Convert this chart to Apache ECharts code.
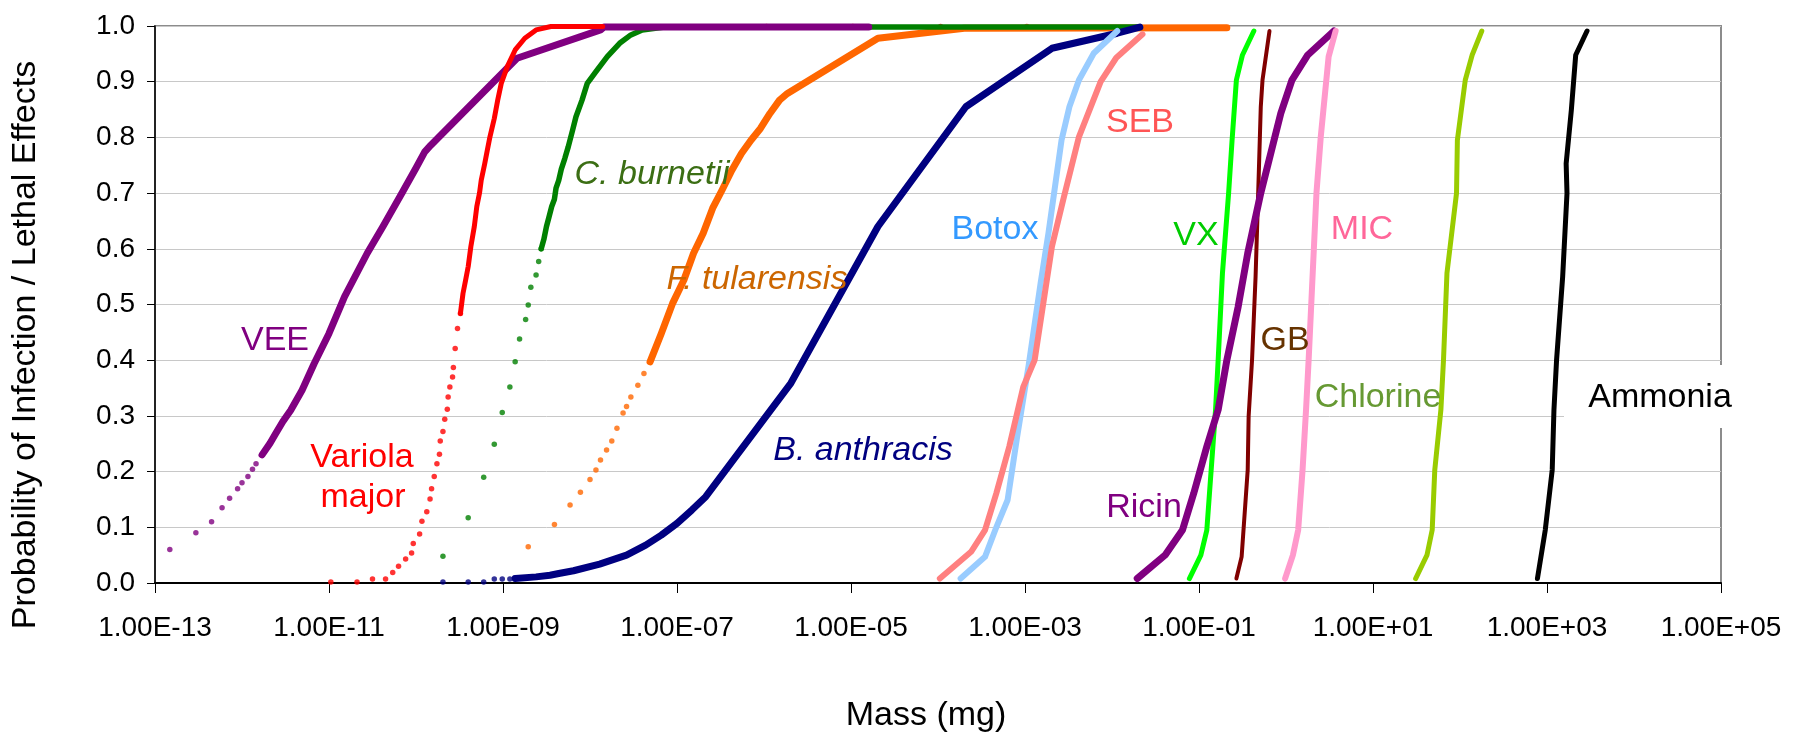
<!DOCTYPE html>
<html>
<head>
<meta charset="utf-8">
<script src="https://cdn.jsdelivr.net/npm/echarts@6/dist/echarts.min.js"></script>
<style>
html,body{margin:0;padding:0;background:#fff;}
#main{width:1797px;height:738px;}
</style>
</head>
<body>
<div id="main"></div>
<script>
// axis ticks
const xTickValues = [1e-13, 1e-11, 1e-9, 1e-7, 1e-5, 1e-3, 1e-1, 1e1, 1e3, 1e5];
const xTickLabels = ['1.00E-13','1.00E-11','1.00E-09','1.00E-07','1.00E-05','1.00E-03','1.00E-01','1.00E+01','1.00E+03','1.00E+05'];
const yTickLabels = ['0.0','0.1','0.2','0.3','0.4','0.5','0.6','0.7','0.8','0.9','1.0'];

// [mass (mg), probability]
const veeDots = [[1.48e-13,0.06],[2.95e-13,0.09],[4.47e-13,0.11],[5.9e-13,0.135],[7.2e-13,0.152],[8.9e-13,0.169],[1.0e-12,0.18],[1.17e-12,0.191],[1.32e-12,0.204],[1.45e-12,0.214],[1.7e-12,0.23]];
const veeLine = [[1.7e-12,0.23],[2.1e-12,0.251],[2.45e-12,0.269],[2.95e-12,0.29],[3.63e-12,0.31],[4.9e-12,0.346],[6.76e-12,0.394],[1.0e-11,0.448],[1.51e-11,0.514],[2.75e-11,0.592],[4.17e-11,0.64],[6.9e-11,0.70],[1.0e-10,0.745],[1.26e-10,0.774],[1.48e-10,0.786],[1.45e-9,0.942],[1.32e-8,0.993],[1.45e-8,0.998],[1.6e-5,0.998]];

const variolaDots = [[1.05e-11,0.002],[2.1e-11,0.002],[3.16e-11,0.007],[4.47e-11,0.007],[5.4e-11,0.019],[6.3e-11,0.03],[7.6e-11,0.043],[8.9e-11,0.054],[9.3e-11,0.071],[1.1e-10,0.088],[1.17e-10,0.111],[1.33e-10,0.128],[1.45e-10,0.151],[1.51e-10,0.169],[1.62e-10,0.191],[1.74e-10,0.214],[1.86e-10,0.231],[1.9e-10,0.255],[2.04e-10,0.272],[2.14e-10,0.294],[2.29e-10,0.312],[2.34e-10,0.334],[2.45e-10,0.352],[2.63e-10,0.37],[2.69e-10,0.387],[2.82e-10,0.421],[3.0e-10,0.457],[3.24e-10,0.484],[1.07e-6,0.999],[1.05e-5,0.999],[1.07e-4,0.999],[1.05e-3,0.999]];
const variolaLine = [[3.24e-10,0.484],[3.47e-10,0.52],[3.72e-10,0.544],[3.98e-10,0.568],[4.27e-10,0.604],[4.68e-10,0.64],[5.0e-10,0.676],[5.37e-10,0.70],[5.62e-10,0.723],[6.17e-10,0.753],[6.6e-10,0.777],[7.08e-10,0.801],[7.94e-10,0.834],[8.7e-10,0.867],[9.55e-10,0.897],[1.12e-9,0.927],[1.38e-9,0.957],[1.78e-9,0.978],[2.4e-9,0.993],[3.55e-9,0.999],[1.4e-8,0.999]];

const burnetiiDots = [[2.04e-10,0.048],[3.98e-10,0.117],[6.0e-10,0.19],[7.94e-10,0.249],[9.8e-10,0.306],[1.2e-9,0.352],[1.38e-9,0.397],[1.55e-9,0.438],[1.82e-9,0.473],[1.95e-9,0.499],[2.09e-9,0.531],[2.4e-9,0.553],[2.57e-9,0.577],[2.75e-9,0.60]];
const burnetiiLine = [[2.75e-9,0.60],[2.95e-9,0.617],[3.16e-9,0.64],[3.39e-9,0.658],[3.63e-9,0.676],[3.9e-9,0.689],[4.07e-9,0.709],[4.37e-9,0.723],[4.68e-9,0.743],[5.13e-9,0.762],[5.62e-9,0.783],[6.31e-9,0.813],[6.9e-9,0.837],[8.1e-9,0.867],[9.3e-9,0.897],[1.17e-8,0.918],[1.58e-8,0.945],[2.19e-8,0.969],[2.95e-8,0.984],[3.98e-8,0.993],[7.24e-8,0.998],[2.1e-2,0.998]];

const tularensisDots = [[1.95e-9,0.065],[3.9e-9,0.105],[5.9e-9,0.14],[7.76e-9,0.163],[1.0e-8,0.186],[1.17e-8,0.203],[1.32e-8,0.221],[1.55e-8,0.239],[1.78e-8,0.255],[2.04e-8,0.278],[2.4e-8,0.305],[2.63e-8,0.317],[2.95e-8,0.334],[3.55e-8,0.355],[4.17e-8,0.376],[4.9e-8,0.397]];
const tularensisLine = [[4.9e-8,0.397],[6.6e-8,0.448],[8.9e-8,0.502],[1.2e-7,0.544],[1.55e-7,0.592],[2.0e-7,0.628],[2.57e-7,0.673],[3.31e-7,0.706],[4.27e-7,0.741],[5.5e-7,0.771],[7.08e-7,0.795],[9.1e-7,0.816],[1.17e-6,0.843],[1.51e-6,0.867],[1.86e-6,0.879],[2.04e-5,0.978],[2.0e-4,0.996],[0.209,0.997]];

const anthracisDots = [[2.04e-10,0.002],[3.98e-10,0.002],[6.0e-10,0.002],[7.94e-10,0.007],[9.8e-10,0.007],[1.2e-9,0.007]];
const anthracisLine = [[1.38e-9,0.008],[2.4e-9,0.011],[3.47e-9,0.014],[4.37e-9,0.017],[6.46e-9,0.022],[1.29e-8,0.034],[2.63e-8,0.05],[4.37e-8,0.068],[6.6e-8,0.086],[1.0e-7,0.107],[1.48e-7,0.131],[2.14e-7,0.155],[2.04e-6,0.359],[2.04e-5,0.64],[2.09e-4,0.855],[2.04e-3,0.96],[1.15e-2,0.987],[2.09e-2,0.998]];

const botox = [[1.82e-4,0.008],[3.47e-4,0.047],[4.68e-4,0.10],[6.31e-4,0.149],[8.13e-4,0.263],[1.1e-3,0.39],[1.51e-3,0.538],[1.86e-3,0.628],[2.63e-3,0.795],[3.24e-3,0.855],[4.17e-3,0.903],[6.17e-3,0.951],[1.15e-2,0.991]];
const seb = [[1.05e-4,0.008],[2.4e-4,0.056],[3.47e-4,0.095],[4.68e-4,0.161],[6.6e-4,0.245],[9.55e-4,0.352],[1.29e-3,0.40],[2.04e-3,0.604],[2.75e-3,0.688],[4.17e-3,0.801],[7.41e-3,0.90],[1.12e-2,0.943],[2.24e-2,0.985]];
const vx = [[7.76e-2,0.008],[0.105,0.05],[0.123,0.095],[0.138,0.203],[0.155,0.311],[0.166,0.40],[0.186,0.556],[0.219,0.70],[0.24,0.795],[0.269,0.903],[0.316,0.948],[0.427,0.991]];
const gb = [[0.269,0.008],[0.309,0.047],[0.363,0.203],[0.372,0.299],[0.407,0.40],[0.447,0.55],[0.479,0.70],[0.513,0.855],[0.537,0.903],[0.646,0.991]];
const ricin = [[1.95e-2,0.008],[4.07e-2,0.05],[6.46e-2,0.095],[8.7e-2,0.161],[0.123,0.245],[0.166,0.311],[0.209,0.40],[0.282,0.496],[0.363,0.592],[0.513,0.70],[0.871,0.843],[1.17,0.903],[1.78,0.948],[3.55,0.991]];
const mic = [[0.977,0.008],[1.2,0.05],[1.38,0.095],[1.55,0.203],[1.7,0.311],[1.82,0.40],[2.24,0.70],[2.51,0.801],[3.09,0.945],[3.72,0.991]];
const chlorine = [[30.9,0.008],[41.7,0.05],[47.9,0.095],[51.3,0.203],[60.3,0.311],[64.6,0.40],[70.8,0.556],[91.2,0.70],[93.3,0.795],[115,0.903],[138,0.948],[178,0.991]];
const ammonia = [[776,0.008],[955,0.095],[1148,0.203],[1202,0.311],[1288,0.40],[1514,0.55],[1698,0.70],[1660,0.753],[1905,0.849],[2138,0.948],[2884,0.991]];

const FONT = '"Liberation Sans", Arial, sans-serif';

function lineS(name, data, color, width) {
    return {name: name, type: 'line', data: data, symbol: 'none', clip: false, silent: true,
        lineStyle: {color: color, width: width, cap: 'round', join: 'round'}};
}
function dotS(name, data, color) {
    return {name: name, type: 'scatter', data: data, symbol: 'circle', symbolSize: 5.5, clip: false, silent: true,
        itemStyle: {color: color}};
}
function label(text, x, y, color, italic) {
    return {type: 'text', x: x, y: y, z: 100,
        style: {text: text, fill: color, font: (italic ? 'italic ' : '') + '34px ' + FONT,
            textAlign: 'center', textVerticalAlign: 'middle'}};
}

var myChart = echarts.init(document.getElementById('main'));

var option = {
    animation: false,
    backgroundColor: '#fff',
    grid: {left: 155, right: 76, top: 26, bottom: 155, show: true, borderColor: '#8c8c8c', borderWidth: 2},
    xAxis: {
        type: 'log', logBase: 10, min: 1e-13, max: 1e5,
        axisLine: {lineStyle: {color: '#000', width: 2}},
        axisTick: {customValues: xTickValues, length: 10, lineStyle: {color: '#000', width: 1}},
        axisLabel: {customValues: xTickValues, margin: 31, color: '#000', fontSize: 28, fontFamily: FONT,
            formatter: function (v) { return xTickLabels[Math.round((Math.log10(v) + 13) / 2)]; }},
        splitLine: {show: false}
    },
    yAxis: {
        type: 'value', min: 0, max: 1, interval: 0.1,
        axisLine: {show: true, lineStyle: {color: '#000', width: 1.5}},
        axisTick: {show: true, length: 8, lineStyle: {color: '#000'}},
        axisLabel: {margin: 20, color: '#000', fontSize: 28, fontFamily: FONT,
            formatter: function (v) { return yTickLabels[Math.round(v * 10)]; }},
        splitLine: {lineStyle: {color: '#c8c8c8', width: 1}}
    },
    series: [
        lineS('F. tularensis', tularensisLine, '#FF6600', 7),
        lineS('C. burnetii', burnetiiLine, '#008000', 5.5),
        lineS('VEE', veeLine, '#800080', 7),
        lineS('B. anthracis', anthracisLine, '#000080', 7),
        lineS('Variola major', variolaLine, '#FF0000', 5),
        lineS('Botox', botox, '#99CCFF', 6),
        lineS('SEB', seb, '#FF8080', 6),
        lineS('VX', vx, '#00FF00', 5),
        lineS('GB', gb, '#800000', 4),
        lineS('Ricin', ricin, '#800080', 7),
        lineS('MIC', mic, '#FF99CC', 6),
        lineS('Chlorine', chlorine, '#99CC00', 5),
        lineS('Ammonia', ammonia, '#000000', 5),
        dotS('VEE dots', veeDots, '#800080'),
        dotS('Variola dots', variolaDots, '#FF0000'),
        dotS('C. burnetii dots', burnetiiDots, '#008000'),
        dotS('F. tularensis dots', tularensisDots, '#FF6600'),
        dotS('B. anthracis dots', anthracisDots, '#000080')
    ],
    graphic: [
        {type: 'text', x: 926, y: 716, z: 100,
            style: {text: 'Mass (mg)', fill: '#000', font: '34px ' + FONT, textAlign: 'center', textVerticalAlign: 'middle'}},
        {type: 'text', x: 26, y: 345, rotation: Math.PI / 2, z: 100,
            style: {text: 'Probability of Infection / Lethal Effects', fill: '#000', font: '34px ' + FONT, textAlign: 'center', textVerticalAlign: 'middle'}},
        {type: 'rect', z: 99, shape: {x: 1564, y: 365, width: 182, height: 63}, style: {fill: '#fff'}},
        label('VEE', 275, 341, '#800080'),
        label('Variola', 362, 458, '#FF0000'),
        label('major', 363, 498, '#FF0000'),
        label('C. burnetii', 652, 175, '#3B6E14', true),
        label('F. tularensis', 757, 280, '#CC6600', true),
        label('B. anthracis', 863, 451, '#000080', true),
        label('Botox', 995, 230, '#3399FF'),
        label('SEB', 1140, 123, '#FF5555'),
        label('VX', 1196, 236, '#00CC00'),
        label('GB', 1285, 341, '#663300'),
        label('MIC', 1362, 230, '#FF6699'),
        label('Ricin', 1144, 508, '#800080'),
        label('Chlorine', 1378, 398, '#669933'),
        label('Ammonia', 1660, 398, '#000000')
    ]
};

myChart.setOption(option);
</script>
</body>
</html>
